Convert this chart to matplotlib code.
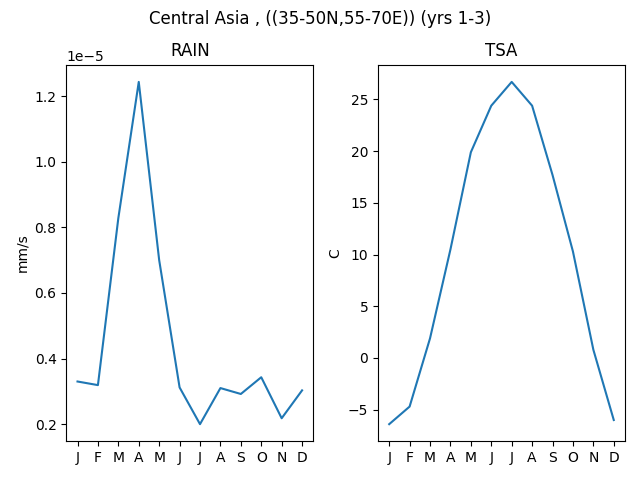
import matplotlib
matplotlib.use("Agg")
import matplotlib.pyplot as plt

# Datos
meses = ['J', 'F', 'M', 'A', 'M', 'J', 'J', 'A', 'S', 'O', 'N', 'D']
rain = [0.330e-5, 0.319e-5, 0.828e-5, 1.243e-5, 0.700e-5, 0.312e-5,
        0.200e-5, 0.310e-5, 0.292e-5, 0.343e-5, 0.218e-5, 0.303e-5]
tsa = [-6.4, -4.7, 1.9, 10.5, 19.9, 24.4, 26.7, 24.4, 17.7, 10.3, 0.8, -6.0]

fig, (ax1, ax2) = plt.subplots(1, 2, figsize=(6.4, 4.8), dpi=100)
fig.suptitle('Central Asia , ((35-50N,55-70E)) (yrs 1-3)')

x = range(len(meses))
ax1.plot(x, rain)
ax1.set_title('RAIN')
ax1.set_ylabel('mm/s')
ax1.set_xticks(list(x))
ax1.set_xticklabels(meses)

ax2.plot(x, tsa)
ax2.set_title('TSA')
ax2.set_ylabel('C')
ax2.set_xticks(list(x))
ax2.set_xticklabels(meses)

fig.tight_layout()
fig.subplots_adjust(top=0.865)
fig.savefig('out.png')
